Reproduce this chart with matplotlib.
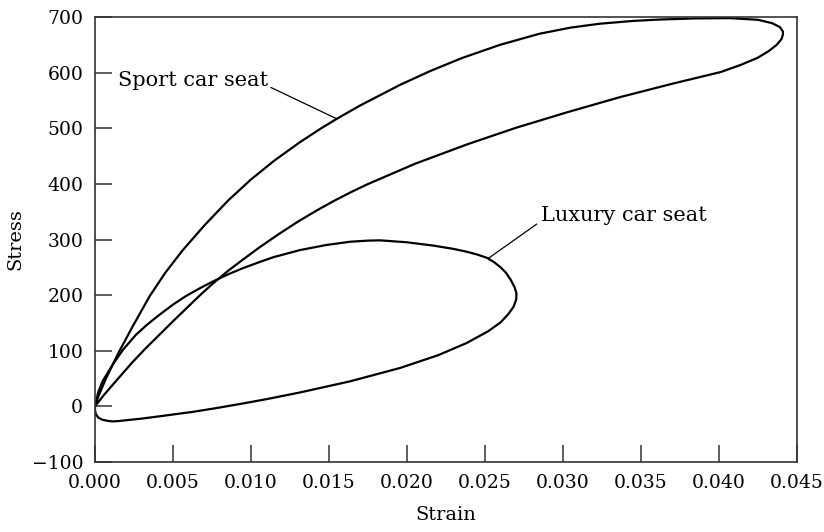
import matplotlib
matplotlib.use("Agg")
import matplotlib.pyplot as plt

# sport car seat loop: loading branch out to the tip, unloading branch back
sport_strain = [0.0, 0.0002, 0.0007, 0.0015, 0.0024, 0.0035, 0.0045, 0.0056, 0.0070,
                0.00853, 0.0100, 0.0115, 0.01314, 0.0145, 0.0155, 0.0170, 0.01955,
                0.0215, 0.0235, 0.02596, 0.0285, 0.0305, 0.03237, 0.0345, 0.0362,
                0.0385, 0.0407, 0.0425, 0.0434, 0.0439, 0.0441, 0.0441, 0.0440,
                0.0437, 0.0432, 0.0425, 0.0414, 0.0401, 0.0370, 0.03366, 0.0303,
                0.0270, 0.02385, 0.0205, 0.01744, 0.0164, 0.01529, 0.0142, 0.0130,
                0.01174, 0.0105, 0.00944, 0.0085, 0.00752, 0.0067, 0.00581, 0.0050,
                0.0041, 0.0032, 0.00239, 0.0017, 0.00111, 0.0005, 0.0]
sport_stress = [0, 17, 50, 96, 143, 198, 240, 280, 325,
                370, 408, 442, 475, 500, 517, 541, 578,
                603, 626, 650, 670, 681, 688, 693, 695.5,
                697.5, 698, 695, 689, 682, 674, 668, 660,
                650, 639, 627, 614, 601, 580, 556, 529,
                501, 471, 436, 399, 385, 369, 352, 332,
                309, 285, 263, 243, 220, 199, 175, 153,
                128, 103, 79, 57, 38, 18, 0]

# luxury car seat loop
lux_strain = [0.0, 0.0002, 0.0005, 0.00111, 0.0018, 0.0026, 0.0033, 0.0041, 0.0050,
              0.00581, 0.0067, 0.00752, 0.0085, 0.00944, 0.0105, 0.01141, 0.01314,
              0.0148, 0.01635, 0.0175, 0.01827, 0.0200, 0.0217, 0.0230, 0.02383,
              0.0245, 0.02513, 0.0256, 0.0260, 0.02635, 0.02664, 0.0269, 0.02702,
              0.0270, 0.02683, 0.0265, 0.0260, 0.0252, 0.02383, 0.0220, 0.01955,
              0.01635, 0.01314, 0.0110, 0.00944, 0.0078, 0.00624, 0.0041, 0.0030,
              0.00196, 0.0015, 0.00111, 0.0008, 0.00047, 0.0002, 0.00004, 0.0, 0.0]
lux_stress = [0, 25, 46, 74, 102, 128, 146, 164, 183,
              198, 212, 224, 237, 248, 259, 268, 281,
              290, 296, 298, 298.5, 295, 289, 283, 278,
              273, 267, 259, 250, 240, 228, 214, 203,
              192, 179, 166, 151, 135, 114, 92, 69,
              45, 25, 13, 5, -3, -10, -18, -22,
              -25, -26.5, -27, -26, -24, -20, -13, -6, 0]

xticks = [0.000, 0.005, 0.010, 0.015, 0.020, 0.025, 0.030, 0.035, 0.040, 0.045]
yticks = [-100, 0, 100, 200, 300, 400, 500, 600, 700]

plt.rcParams['font.family'] = ['DejaVu Serif']

fig = plt.figure(figsize=(8.24, 5.32), dpi=100)
ax = fig.add_axes([0.1153, 0.1316, 0.8519, 0.8364])

for xs, ys in [(sport_strain, sport_stress), (lux_strain, lux_stress)]:
    ax.plot(xs, ys, color="black", lw=1.6, solid_joinstyle="round",
            solid_capstyle="round")

ax.annotate("Sport car seat", xy=(0.0155, 517), xytext=(0.00147, 586),
            ha="left", va="center", fontsize=15,
            arrowprops=dict(arrowstyle="-", lw=0.9, color="black",
                            relpos=(1.0, 0.2), shrinkA=0, shrinkB=0))
ax.annotate("Luxury car seat", xy=(0.02521, 266), xytext=(0.02857, 343),
            ha="left", va="center", fontsize=15,
            arrowprops=dict(arrowstyle="-", lw=0.9, color="black",
                            relpos=(0.0, 0.2), shrinkA=1, shrinkB=0))

ax.set_xlim(0, 0.045)
ax.set_ylim(-100, 700)
ax.set_xticks(xticks)
ax.set_yticks(yticks)
ax.set_xticklabels(["%.3f" % t for t in xticks])
ax.set_yticklabels(["\u2212100" if t < 0 else str(t) for t in yticks])

for s in ax.spines.values():
    s.set_color("#333333")
    s.set_linewidth(1.2)
ax.tick_params(direction="in", length=12, width=1.1, color="#333333",
               labelsize=13.5, pad=8.5, top=False, right=False)

ax.set_xlabel("Strain", fontsize=14, labelpad=10)
ax.set_ylabel("Stress", fontsize=14, labelpad=5)

fig.savefig("out.png", dpi=100)
